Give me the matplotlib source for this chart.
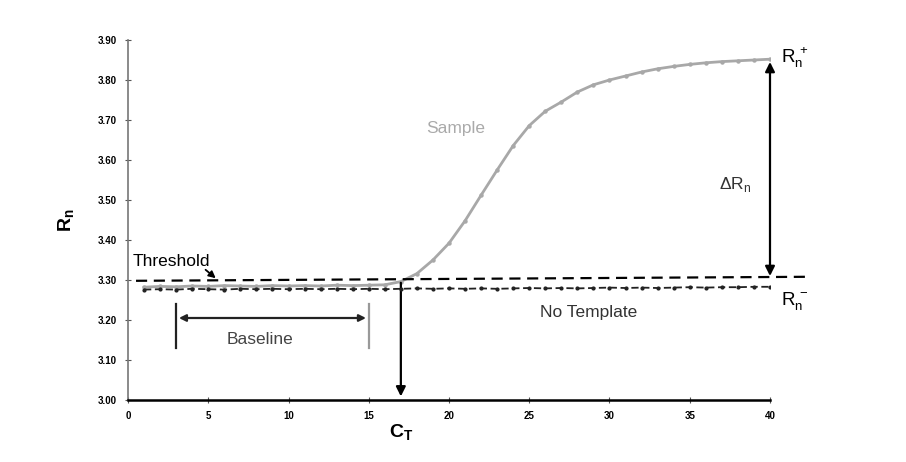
import matplotlib
matplotlib.use("Agg")
import matplotlib.pyplot as plt

plt.rcParams['font.family'] = ['Liberation Sans', 'DejaVu Sans']
plt.rcParams['mathtext.fontset'] = 'custom'
plt.rcParams['mathtext.rm'] = 'Liberation Sans'
plt.rcParams['mathtext.bf'] = 'Liberation Sans:weight=bold'

cycles = list(range(1, 41))
sample = [3.282, 3.284, 3.283, 3.285, 3.284, 3.286, 3.285, 3.284, 3.286, 3.285,
          3.286, 3.285, 3.287, 3.286, 3.287, 3.288, 3.296, 3.316, 3.350, 3.392,
          3.448, 3.512, 3.575, 3.636, 3.686, 3.722, 3.745, 3.770, 3.788, 3.800,
          3.810, 3.820, 3.828, 3.834, 3.839, 3.843, 3.846, 3.848, 3.850, 3.852]
no_template = [3.276, 3.277, 3.276, 3.278, 3.277, 3.276, 3.278, 3.277, 3.278, 3.277,
               3.278, 3.277, 3.278, 3.277, 3.278, 3.277, 3.278, 3.279, 3.278, 3.279,
               3.278, 3.279, 3.278, 3.279, 3.280, 3.279, 3.280, 3.279, 3.280, 3.281,
               3.280, 3.281, 3.280, 3.281, 3.282, 3.281, 3.282, 3.282, 3.283, 3.283]
threshold_x = [0.5, 42.2]
threshold_y = [3.298, 3.308]
x_ticks = [0, 5, 10, 15, 20, 25, 30, 35, 40]
y_ticks = [3.00, 3.10, 3.20, 3.30, 3.40, 3.50, 3.60, 3.70, 3.80, 3.90]
ct = 17
baseline_start, baseline_end = 3, 15
rn_plus = 3.852
rn_minus = 3.303

fig = plt.figure(figsize=(9.06, 4.62), dpi=100)
ax = fig.add_axes([128/906, 1-400/462, (770-128)/906, (400-40)/462])

ax.plot(cycles, sample, color='#a8a8a8', lw=2.0, marker='o', ms=2.2, zorder=3)
ax.plot(cycles, no_template, color='#222222', lw=1.3, ls=(0, (4, 2)), marker='o', ms=2.0, zorder=4)
ax.plot(threshold_x, threshold_y, color='black', lw=1.6, ls=(0, (5, 3)), clip_on=False, zorder=5)

ax.set_xlim(0, 40)
ax.set_ylim(3.00, 3.90)
ax.set_xticks(x_ticks)
ax.set_yticks(y_ticks)
ax.set_xticklabels([str(t) for t in x_ticks], fontsize=7, fontweight='bold')
ax.set_yticklabels([f"{t:.2f}" for t in y_ticks], fontsize=7, fontweight='bold')
ax.tick_params(direction='inout', length=4, width=0.8, color='#555555', pad=6)
for s in ['top', 'right']:
    ax.spines[s].set_visible(False)
ax.spines['left'].set_color('#777777')
ax.spines['left'].set_linewidth(1.2)
ax.spines['bottom'].set_linewidth(1.8)

ax.set_ylabel(r'$\mathbf{R_n}$', fontsize=14, labelpad=16)

# Sample label
ax.text(20.4, 3.68, 'Sample', color='#aaaaaa', fontsize=12.5, ha='center', va='center')
# No template label
ax.text(28.7, 3.22, 'No Template', color='#333333', fontsize=12.5, ha='center', va='center')
# Threshold label with arrow
ax.text(0.3, 3.345, 'Threshold', color='black', fontsize=12.5, ha='left', va='center')
ax.annotate('', xy=(5.6, 3.300), xytext=(4.7, 3.330),
            arrowprops=dict(arrowstyle='-|>', color='black', lw=1.3, mutation_scale=10))

# Baseline
ax.plot([baseline_start, baseline_start], [3.13, 3.24], color='#222222', lw=1.6)
ax.plot([baseline_end, baseline_end], [3.13, 3.24], color='#999999', lw=1.6)
ax.annotate('', xy=(baseline_start, 3.205), xytext=(baseline_end, 3.205),
            arrowprops=dict(arrowstyle='<|-|>', color='#222222', lw=1.6, mutation_scale=10))
ax.text(8.2, 3.152, 'Baseline', color='#444444', fontsize=12.5, ha='center', va='center')

# Ct arrow
ax.annotate('', xy=(ct, 3.002), xytext=(ct, 3.30),
            arrowprops=dict(arrowstyle='-|>', color='black', lw=1.6, mutation_scale=14))
ax.text(ct, 2.92, r'$\mathbf{C_T}$', fontsize=14, ha='center', va='center', clip_on=False)

# Delta Rn arrow
ax.annotate('', xy=(40, rn_plus), xytext=(40, rn_minus),
            arrowprops=dict(arrowstyle='<|-|>', color='black', lw=1.6, mutation_scale=14), annotation_clip=False)
ax.text(37.8, 3.54, r'$\Delta\mathrm{R}_\mathrm{n}$', fontsize=12.5, ha='center', va='center', color='#333333')
ax.text(40.7, 3.855, r'$\mathrm{R}_\mathrm{n}^{\,+}$', fontsize=13.5, ha='left', va='center', clip_on=False)
ax.text(40.7, 3.245, r'$\mathrm{R}_\mathrm{n}^{\,-}$', fontsize=13.5, ha='left', va='center', clip_on=False)

fig.savefig('out.png', dpi=100)
